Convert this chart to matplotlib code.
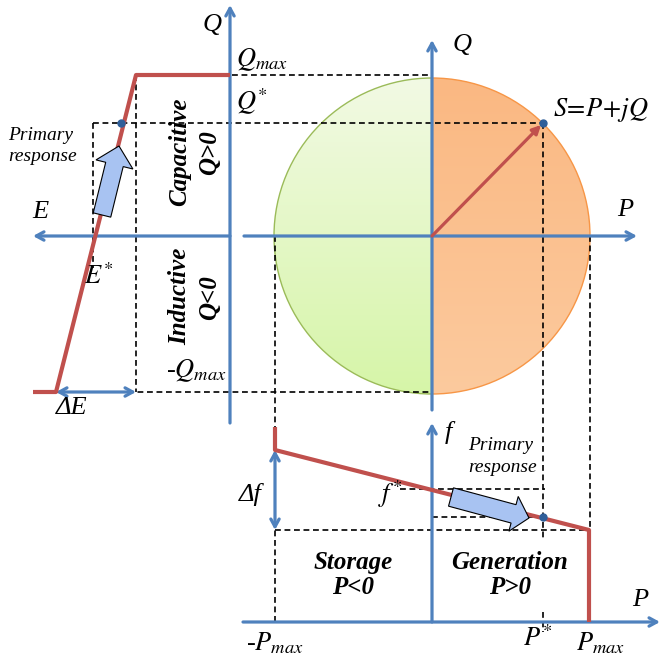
import numpy as np
import matplotlib
matplotlib.use("Agg")
import matplotlib.pyplot as plt
from matplotlib.patches import Wedge, FancyArrow

plt.rcParams['font.family'] = ['Liberation Serif', 'DejaVu Serif']
plt.rcParams['mathtext.fontset'] = 'stix'

# diagram geometry (pixel frame of the sketch)
origin = (432, 236)
radius = 158
s_point = (543, 123)
q_curve_x = [33, 56, 136, 230]
q_curve_y = [392, 392, 75, 75]
f_curve_x = [275, 275, 589, 589]
f_curve_y = [427, 450, 530, 622]
op_point = (543, 517)

# dashed guide lines: (x0, y0, x1, y1)
guides = [
    (232, 75, 432, 75),
    (93, 123, 543, 123),
    (93, 123, 93, 268),
    (136, 75, 136, 392),
    (33, 392, 432, 392),
    (275, 236, 275, 622),
    (590, 236, 590, 530),
    (543, 123, 543, 540),
    (543, 612, 543, 632),
    (275, 530, 590, 530),
    (400, 489, 545, 489),
    (432, 517, 543, 517),
]

# axis arrows: (tail, tip)
axes_arrows = [
    ((230, 423), (230, 5)),
    ((230, 236), (33, 236)),
    ((244, 236), (637, 236)),
    ((432, 410), (432, 40)),
    ((432, 622), (432, 423)),
    ((243, 622), (660, 622)),
]

BLUE = '#4f81bd'
RED = '#c0504d'

fig = plt.figure(figsize=(6.6, 6.65), dpi=100)
ax = fig.add_axes([0, 0, 1, 1])


def half_disc(theta1, theta2, top_rgb, bot_rgb, edge, x0, x1):
    w = Wedge(origin, radius, theta1, theta2, facecolor='none', edgecolor=edge, lw=1, zorder=2)
    ax.add_patch(w)
    grad = np.linspace(0, 1, 256)[:, None, None]
    img = (1 - grad) * np.array(top_rgb) + grad * np.array(bot_rgb)
    im = ax.imshow(img / 255.0, extent=(x0, x1, origin[1] + radius, origin[1] - radius),
                   origin='upper', aspect='auto', zorder=1)
    clip = Wedge(origin, radius, theta1, theta2, transform=ax.transData)
    im.set_clip_path(clip)


half_disc(90, 270, (242, 250, 228), (214, 245, 168), '#9bbb59', origin[0] - radius, origin[0])
half_disc(-90, 90, (250, 184, 130), (252, 202, 158), '#f79646', origin[0], origin[0] + radius)

for x0, y0, x1, y1 in guides:
    ax.plot([x0, x1], [y0, y1], color='black', lw=1.2, dashes=(3.5, 2.2), zorder=3)

for tail, tip in axes_arrows:
    ax.annotate('', xy=tip, xytext=tail,
                arrowprops=dict(arrowstyle='->,head_length=0.55,head_width=0.3',
                                color=BLUE, lw=2.3, shrinkA=0, shrinkB=0), zorder=4)

# double arrows
for a, b in [((56, 392), (136, 392)), ((275, 450), (275, 530))]:
    ax.annotate('', xy=b, xytext=a,
                arrowprops=dict(arrowstyle='<->,head_length=0.55,head_width=0.3',
                                color=BLUE, lw=2.3, shrinkA=0, shrinkB=0), zorder=4)

ax.plot(q_curve_x, q_curve_y, color=RED, lw=3, zorder=5, solid_capstyle='butt')
ax.plot(f_curve_x, f_curve_y, color=RED, lw=3, zorder=5, solid_capstyle='butt')

ax.annotate('', xy=s_point, xytext=origin,
            arrowprops=dict(arrowstyle='-|>,head_length=0.5,head_width=0.25',
                            color=RED, lw=2.3, shrinkA=0, shrinkB=2), zorder=5)

ax.plot(*s_point, 'o', color='#2f5f9a', ms=5, zorder=6)
ax.plot(*op_point, 'o', color='#2f5f9a', ms=5, zorder=6)
ax.plot(121, 123, 'o', color='#2f5f9a', ms=5, zorder=6)

# primary response block arrows
for (tx, ty), (hx, hy), bw, hw, hl in [((102, 215), (119, 146), 18, 38, 19),
                                       ((451, 497), (529, 518), 19, 36, 16)]:
    fa = FancyArrow(tx, ty, hx - tx, hy - ty, width=bw, head_width=hw, head_length=hl,
                    length_includes_head=True, facecolor='#a8c3f2', edgecolor='black',
                    lw=0.8, zorder=7)
    ax.add_patch(fa)

it = dict(fontstyle='italic', fontsize=19, ha='center', va='center', zorder=8)
bi = dict(fontstyle='italic', fontweight='bold', fontsize=18, ha='center', va='center', zorder=8)
pr = dict(fontstyle='italic', fontsize=14, ha='center', va='center', zorder=8)
mt = dict(fontsize=19, va='center', zorder=8)

ax.text(212, 25, 'Q', **it)
ax.text(236, 60, r'$Q_{max}$', ha='left', **mt)
ax.text(236, 102, r'$Q^{*}$', ha='left', **mt)
ax.text(40, 212, 'E', **it)
ax.text(99, 276, r'$E^{*}$', ha='center', **mt)
ax.text(8, 146, 'Primary\nresponse', fontstyle='italic', fontsize=14, ha='left',
        va='center', linespacing=1.3)
ax.text(180, 152, 'Capacitive', rotation=90, **bi)
ax.text(210, 153, 'Q>0', rotation=90, **bi)
ax.text(180, 296, 'Inductive', rotation=90, **bi)
ax.text(210, 298, 'Q<0', rotation=90, **bi)
ax.text(196, 371, r'-$Q_{max}$', ha='center', **mt)
ax.text(72, 408, 'ΔE', **it)

ax.text(462, 45, 'Q', **it)
ax.text(625, 210, 'P', **it)
ax.text(553, 110, r'$S\!=\!P\!+\!jQ$', ha='left', **mt)

ax.text(448, 432, 'f', **it)
ax.text(501, 445, 'Primary', **pr)
ax.text(503, 468, 'response', **pr)
ax.text(390, 494, r'$f^{*}$', ha='center', **mt)
ax.text(250, 495, 'Δf', **it)
ax.text(353, 575, 'Storage\nP<0', linespacing=1.15, **bi)
ax.text(510, 575, 'Generation\nP>0', linespacing=1.15, **bi)
ax.text(640, 600, 'P', **it)
ax.text(275, 643, r'-$P_{max}$', ha='center', **mt)
ax.text(538, 638, r'$P^{*}$', ha='center', **mt)
ax.text(600, 643, r'$P_{max}$', ha='center', **mt)

ax.set_xlim(0, 660)
ax.set_ylim(665, 0)
ax.axis('off')
fig.savefig('out.png', dpi=100)
